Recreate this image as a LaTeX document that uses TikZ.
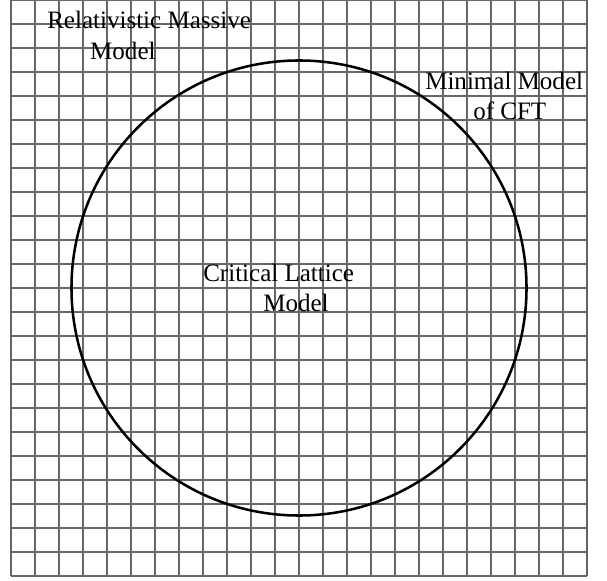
\documentclass[tikz,border=0pt]{standalone}
\usepackage{fontspec}
\setmainfont{Liberation Serif}
\usepackage{xcolor}
\usetikzlibrary{positioning}

\tikzset{
  label text/.style={anchor=base west, inner sep=0pt, font=\fontsize{17.8}{21.3}\selectfont},
  lattice/.style={draw=black!60, line width=1pt},
  region/.style={draw=black, line width=1.8pt}
}

\begin{document}
\begin{tikzpicture}[x=0.6cm, y=0.6cm]
    \useasboundingbox (-0.458,-0.167) rectangle (24.833,24);
    % Lattice
    \draw[lattice, step=1] (0,0) grid (24,24);
    % Critical region
    \draw[region] (12,12) circle (9.48);
    % Labels
    \node[label text] (massive1) at (1.5,22.81) {Relativistic Massive};
    \node[label text] (massive2) at (3.29,21.52) {Model};
    \node[label text] (cft1) at (17.25,20.25) {Minimal Model};
    \node[label text] (cft2) at (19.25,19.0) {of CFT};
    \node[label text] (lattice1) at (8.0,12.25) {Critical Lattice};
    \node[label text] (lattice2) at (10.5,11.04) {Model};
  \end{tikzpicture}
\end{document}
